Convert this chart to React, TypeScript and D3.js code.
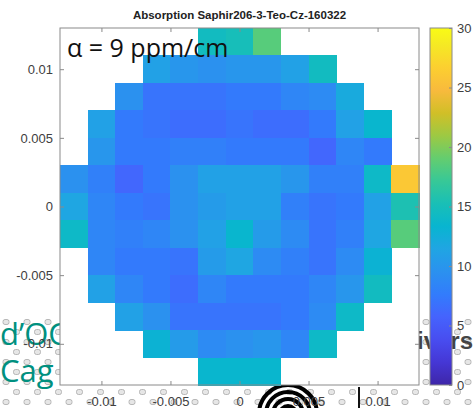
import * as d3 from 'd3';
import { useEffect, useRef } from 'react';

const title = 'Absorption Saphir206-3-Teo-Cz-160322';
const annotation = 'α = 9 ppm/cm';

// cell centres of the scan grid
const xCenters = [-0.012, -0.01, -0.008, -0.006, -0.004, -0.002, 0, 0.002, 0.004, 0.006, 0.008, 0.01, 0.012];
const yCenters = [0.012, 0.01, 0.008, 0.006, 0.004, 0.002, 0, -0.002, -0.004, -0.006, -0.008, -0.01, -0.012];

// absorption (ppm/cm), one array per row from top to bottom, null = outside the sample
const n = null;
const rowP012 = [n, n, n, n, n, 14.5, 15, 18.5, n, n, n, n, n];
const rowP010 = [n, n, n, 11, 10, 9.5, 10, 10, 11, 14.5, n, n, n];
const rowP008 = [n, n, 9.5, 7, 7, 7, 7.5, 7.5, 8.5, 9, 12, n, n];
const rowP006 = [n, 11, 7.5, 7, 6.5, 6.5, 7, 6.5, 6.5, 7.5, 11, 13.5, n];
const rowP004 = [n, 10, 7.5, 7.5, 8, 8, 7.5, 7.5, 7.5, 6, 8.5, 7.5, n];
const rowP002 = [9.5, 8, 6, 7.5, 9.5, 11, 11, 11, 10, 8, 8, 14, 26];
const rowZero = [11.5, 8.5, 7.5, 7, 9.5, 10.5, 11, 11, 8, 7, 7.5, 11, 15.5];
const rowM002 = [14, 8.5, 8, 8.5, 9.5, 11, 13.5, 10.5, 9, 7, 8, 11.5, 18.5];
const rowM004 = [n, 8.5, 7.5, 7.5, 7, 10.5, 11.5, 9, 8, 7, 9, 13, n];
const rowM006 = [n, 11, 8.5, 7.5, 6.5, 8.5, 7.5, 7.5, 7.5, 8.5, 10, 14.5, n];
const rowM008 = [n, n, 11, 9.5, 7, 7, 7, 7, 7.5, 9, 14, n, n];
const rowM010 = [n, n, n, 13, 10.5, 9, 9.5, 10, 8.5, 14, n, n, n];
const rowM012 = [n, n, n, n, n, 13.5, 13.5, 13.5, n, n, n, n, n];
const rows = [rowP012, rowP010, rowP008, rowP006, rowP004, rowP002, rowZero, rowM002, rowM004, rowM006, rowM008, rowM010, rowM012];

const axisTicks = [-0.01, -0.005, 0, 0.005, 0.01];
const axisTickLabels = ['-0.01', '-0.005', '0', '0.005', '0.01'];
const colorTicks = [0, 5, 10, 15, 20, 25, 30];

// parula, sampled from the 64 entry table
const parulaIndex = [0, 4, 8, 12, 16, 20, 24, 28, 32, 36, 40, 44, 48, 52, 56, 60, 63];
const parulaHex = ['#3e26a8', '#4537d5', '#484df0', '#4563fd', '#327cfc', '#2b91ef', '#20a5e3', '#08b5d0',
  '#19bfb6', '#37c897', '#64cd6f', '#9dc943', '#d1bf27', '#f8ba3d', '#fccf30', '#f5e924', '#f9fb15'];

const W = 475;
const H = 408;

const App = () => {
  const ref = useRef(null);

  useEffect(() => {
    const svg = d3.select(ref.current);
    svg.selectAll('*').remove();

    const m = { left: 60, right: 419, top: 28, bottom: 385 };
    const font = '"Liberation Sans", Arial, sans-serif';

    const x = d3.scaleLinear().domain([-0.013, 0.013]).range([m.left, m.right]);
    const y = d3.scaleLinear().domain([-0.013, 0.013]).range([m.bottom, m.top]);
    const color = d3.scaleLinear<string>()
      .domain(parulaIndex.map(i => (i / 63) * 30))
      .range(parulaHex)
      .interpolate(d3.interpolateRgb)
      .clamp(true);

    // slide behind the figure
    const bg = svg.append('g');
    const dots = [];
    for (let r = 0; r < 10; r++) {
      for (let c = 0; c < 24; c++) {
        dots.push({ cx: c * 21 + (r % 2 ? 10.5 : 0) + 6, cy: 322 + r * 10 });
      }
    }
    bg.selectAll('rect.dot').data(dots).enter().append('rect')
      .attr('class', 'dot')
      .attr('x', d => d.cx - 3).attr('y', d => d.cy - 2.5)
      .attr('width', 6).attr('height', 5).attr('rx', 2)
      .attr('fill', '#e6e6e6').attr('stroke', '#a8a8a8').attr('stroke-width', 0.8);

    [29, 22, 15, 8].forEach(r => {
      bg.append('circle').attr('cx', 288).attr('cy', 414).attr('r', r)
        .attr('fill', 'none').attr('stroke', '#000').attr('stroke-width', 4);
    });
    bg.append('line').attr('x1', 359).attr('x2', 359).attr('y1', 387).attr('y2', 408)
      .attr('stroke', '#111').attr('stroke-width', 2);

    bg.append('text').attr('x', 0).attr('y', 345).text('d’OC')
      .attr('font-family', '"Open Sans", sans-serif').attr('font-size', 31).attr('fill', '#00907f');
    bg.append('text').attr('x', 0).attr('y', 382).text('Cag')
      .attr('font-family', '"Open Sans", sans-serif').attr('font-size', 31).attr('fill', '#00907f');
    bg.append('text').attr('x', 417).attr('y', 349).text('ivers')
      .attr('font-family', font).attr('font-weight', 'bold').attr('font-size', 24).attr('fill', '#444');

    // axes area
    svg.append('rect')
      .attr('x', m.left).attr('y', m.top)
      .attr('width', m.right - m.left).attr('height', m.bottom - m.top)
      .attr('fill', '#fff');

    const cells = rows.flatMap((row, i) => row.map((v, j) => ({ xc: xCenters[j], yc: yCenters[i], v })))
      .filter(d => d.v !== null);

    svg.append('g').attr('shape-rendering', 'crispEdges')
      .selectAll('rect').data(cells).enter().append('rect')
      .attr('x', d => x(d.xc - 0.001))
      .attr('y', d => y(d.yc + 0.001))
      .attr('width', d => x(d.xc + 0.001) - x(d.xc - 0.001) + 0.5)
      .attr('height', d => y(d.yc - 0.001) - y(d.yc + 0.001) + 0.5)
      .attr('fill', d => color(d.v));

    const styleAxis = g => {
      g.select('.domain').remove();
      g.selectAll('line').attr('stroke', '#8a8a8a');
      g.selectAll('text').attr('fill', '#404040').attr('font-size', 13).attr('font-family', font);
    };
    const fmt = (d, i) => axisTickLabels[i];

    svg.append('g').attr('transform', `translate(0,${m.bottom})`)
      .call(d3.axisBottom(x).tickValues(axisTicks).tickFormat(fmt).tickSize(-4).tickPadding(12))
      .call(styleAxis);
    svg.append('g').attr('transform', `translate(0,${m.top})`)
      .call(d3.axisTop(x).tickValues(axisTicks).tickFormat(() => '').tickSize(-4))
      .call(styleAxis);
    svg.append('g').attr('transform', `translate(${m.left},0)`)
      .call(d3.axisLeft(y).tickValues(axisTicks).tickFormat(fmt).tickSize(-4).tickPadding(7))
      .call(styleAxis);
    svg.append('g').attr('transform', `translate(${m.right},0)`)
      .call(d3.axisRight(y).tickValues(axisTicks).tickFormat(() => '').tickSize(-4))
      .call(styleAxis);

    svg.append('rect')
      .attr('x', m.left).attr('y', m.top)
      .attr('width', m.right - m.left).attr('height', m.bottom - m.top)
      .attr('fill', 'none').attr('stroke', '#8a8a8a').attr('stroke-width', 1);

    svg.append('text').attr('x', (m.left + m.right) / 2).attr('y', 19)
      .attr('text-anchor', 'middle').attr('font-family', font)
      .attr('font-weight', 'bold').attr('font-size', 11.5).attr('fill', '#222')
      .text(title);

    svg.append('text').attr('x', 67).attr('y', 57)
      .attr('font-family', '"Open Sans", sans-serif').attr('font-size', 25).attr('fill', '#111')
      .text(annotation);

    // colorbar
    const cb = { left: 430, right: 452 };
    const cy = d3.scaleLinear().domain([0, 30]).range([m.bottom, m.top]);
    const grad = svg.append('defs').append('linearGradient')
      .attr('id', 'parula').attr('x1', 0).attr('x2', 0).attr('y1', 1).attr('y2', 0);
    parulaIndex.forEach((idx, i) => {
      grad.append('stop').attr('offset', idx / 63).attr('stop-color', parulaHex[i]);
    });
    svg.append('rect')
      .attr('x', cb.left).attr('y', m.top)
      .attr('width', cb.right - cb.left).attr('height', m.bottom - m.top)
      .attr('fill', 'url(#parula)').attr('stroke', '#8a8a8a');
    svg.append('g').attr('transform', `translate(${cb.right},0)`)
      .call(d3.axisRight(cy).tickValues(colorTicks).tickSize(-3).tickPadding(5))
      .call(styleAxis);
  }, []);

  return (
    <svg ref={ref} width={W} height={H}
      style={{ position: 'absolute', left: 0, top: 0, background: '#fff' }} />
  );
};

export default App;
